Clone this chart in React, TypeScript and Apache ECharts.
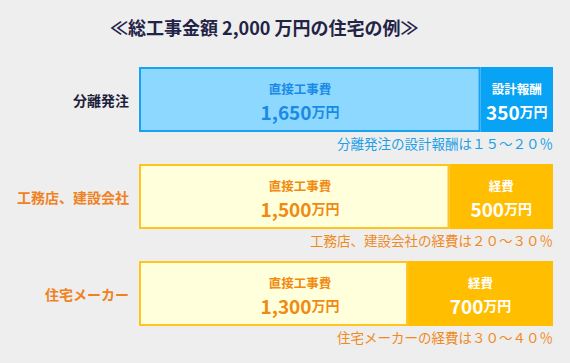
import React, { useEffect, useRef } from "react";
import * as echarts from "echarts";

const categories = ["分離発注", "工務店、建設会社", "住宅メーカー"];
const directCost = [1650, 1500, 1300];
const overheadCost = [350, 500, 700];
const overheadNames = ["設計報酬", "経費", "経費"];
const directName = "直接工事費";
const notes = [
  "分離発注の設計報酬は１５～２０％",
  "工務店、建設会社の経費は２０～３０％",
  "住宅メーカーの経費は３０～４０％",
];
const totalCost = 2000;
const unit = "万円";
const titleText = "≪総工事金額 2,000 万円の住宅の例≫";

const FONT = "'Noto Sans CJK JP', 'Noto Sans', sans-serif";
const BAR_W = 65;

const themes = [
  {
    label: "#1e1e3c",
    fill: "#8dd8ff",
    border: "#1aa2f0",
    solid: "#08a3f5",
    text: "#1a8ae6",
    note: "#1ba0e8",
  },
  {
    label: "#f0821e",
    fill: "#ffffdc",
    border: "#ffc41e",
    solid: "#ffbe00",
    text: "#f08a10",
    note: "#f08a1e",
  },
  {
    label: "#f0821e",
    fill: "#ffffdc",
    border: "#ffc41e",
    solid: "#ffbe00",
    text: "#f08a10",
    note: "#f08a1e",
  },
];

const fmt = (v: number) => v.toLocaleString("en-US");

export default function App() {
  const ref = useRef<HTMLDivElement>(null);
  useEffect(() => {
    document.body.style.margin = "0";
    const chart = echarts.init(ref.current!, null, { renderer: "svg" });

    const richFor = (color: string) => ({
      t: { fontSize: 12.5, fontWeight: "bold", color, fontFamily: FONT, lineHeight: 23 },
      n: { fontSize: 19, fontWeight: "bold", color, fontFamily: FONT, lineHeight: 23 },
      u: { fontSize: 14, fontWeight: "bold", color, fontFamily: FONT, lineHeight: 23 },
    });

    chart.setOption({
      animation: false,
      backgroundColor: "#eeeeee",
      title: {
        text: titleText,
        left: 110,
        top: 18,
        padding: 0,
        textStyle: { fontSize: 18, fontWeight: "bold", color: "#232346", fontFamily: FONT },
      },
      grid: { left: 139, right: 17, top: 51, bottom: 21, containLabel: false },
      xAxis: { type: "value", min: 0, max: totalCost, show: false },
      yAxis: {
        type: "category",
        inverse: true,
        data: categories,
        axisLine: { show: false },
        axisTick: { show: false },
        splitLine: { show: false },
        axisLabel: {
          margin: 10,
          fontSize: 14,
          fontWeight: "bold",
          fontFamily: FONT,
          color: (_v: any, i: number) => themes[i].label,
        },
      },
      series: [
        {
          type: "bar",
          stack: "total",
          barWidth: BAR_W,
          data: directCost.map((v, i) => ({
            value: v,
            itemStyle: { color: themes[i].fill, borderColor: themes[i].border, borderWidth: 2 },
            label: {
              show: true,
              position: [161, "50%"],
              align: "center",
              verticalAlign: "middle",
              formatter: `{t|${directName}}\n{n|${fmt(v)}}{u|${unit}}`,
              rich: richFor(themes[i].text),
            },
          })),
        },
        {
          type: "bar",
          stack: "total",
          barWidth: BAR_W,
          data: overheadCost.map((v, i) => ({
            value: v,
            itemStyle: { color: themes[i].solid, borderColor: themes[i].solid, borderWidth: 0 },
            label: {
              show: true,
              position: "inside",
              align: "center",
              verticalAlign: "middle",
              formatter: `{t|${overheadNames[i]}}\n{n|${fmt(v)}}{u|${unit}}`,
              rich: richFor("#ffffff"),
            },
          })),
        },
        {
          type: "custom",
          silent: true,
          clip: false,
          z: 10,
          encode: { x: 0, y: 1 },
          data: categories.map((_c, i) => [totalCost, i]),
          renderItem: (params: any, api: any) => {
            const i = params.dataIndex;
            const p = api.coord([api.value(0), api.value(1)]);
            return {
              type: "text",
              x: p[0],
              y: p[1] + BAR_W / 2 + 11,
              style: {
                text: notes[i],
                fill: themes[i].note,
                fontSize: 13.5,
                fontFamily: FONT,
                align: "right",
                verticalAlign: "middle",
              },
            };
          },
        },
      ],
    });
    return () => chart.dispose();
  }, []);
  return <div ref={ref} style={{ width: 570, height: 363 }} />;
}
